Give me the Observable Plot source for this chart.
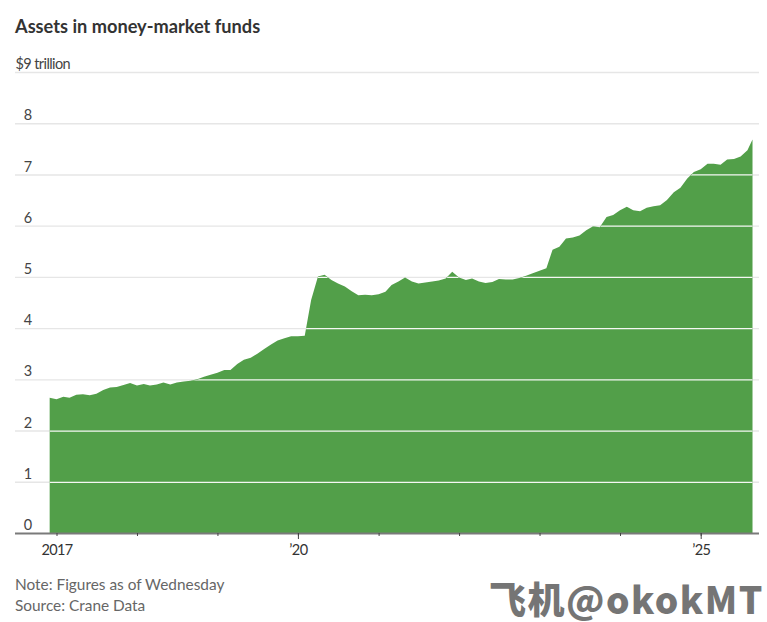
<!DOCTYPE html>
<html>
<head>
<meta charset="utf-8">
<script src="https://cdn.jsdelivr.net/npm/d3@7"></script>
<script src="https://cdn.jsdelivr.net/npm/@observablehq/plot@0.6"></script>
<style>
  html, body { margin: 0; padding: 0; background: #fff; }
  #wrap { position: relative; width: 767px; height: 622px; overflow: hidden; font-family: Lato, sans-serif; }
  #title { height: 48px; box-sizing: border-box; padding: 15px 0 0 15px; font-size: 18.2px; line-height: 22px; font-weight: 700; color: #333; }
  #chart svg { display: block; }
  #note { padding: 11px 0 0 15px; font-size: 15.4px; line-height: 21px; color: #666; }
  #mark { position: absolute; left: 489px; top: 579px; font-family: "Noto Sans CJK SC", sans-serif; font-weight: 900; font-size: 37px; line-height: 38px; letter-spacing: 1.5px; color: #757575; white-space: nowrap; }
  .tight text, text.tight { letter-spacing: -0.6px; }
</style>
</head>
<body>
<div id="wrap">
  <div id="title">Assets in money-market funds</div>
  <div id="chart"></div>
  <div id="note">Note: Figures as of Wednesday<br>Source: Crane Data</div>
  <div id="mark">飞机@okokMT</div>
</div>
<script>
const months = d3.utcMonth.range(new Date(Date.UTC(2016, 11, 1)), new Date(Date.UTC(2025, 8, 1)));
const lastDate = new Date(Date.UTC(2025, 7, 24));
const dates = [...months, lastDate];
const assets = [
  2.64,
  2.61, 2.66, 2.64, 2.70, 2.71, 2.69, 2.72, 2.79, 2.84, 2.85, 2.89, 2.93,
  2.88, 2.91, 2.88, 2.90, 2.94, 2.90, 2.94, 2.96, 2.97, 3.00, 3.05, 3.09,
  3.13, 3.18, 3.18, 3.30, 3.38, 3.42, 3.50, 3.59, 3.68, 3.76, 3.80, 3.84,
  3.84, 3.85, 4.55, 5.01, 5.04, 4.94, 4.87, 4.81, 4.72, 4.64, 4.65, 4.64,
  4.66, 4.71, 4.84, 4.91, 4.99, 4.91, 4.87, 4.89, 4.91, 4.93, 4.97, 5.10,
  4.99, 4.94, 4.97, 4.91, 4.88, 4.90, 4.96, 4.95, 4.95, 4.98, 5.02, 5.07,
  5.12, 5.17, 5.53, 5.59, 5.75, 5.77, 5.81, 5.91, 5.99, 5.97, 6.17, 6.21,
  6.30, 6.37, 6.30, 6.28, 6.35, 6.38, 6.40, 6.50, 6.65, 6.74, 6.92, 7.05,
  7.10, 7.21, 7.21, 7.19, 7.29, 7.30, 7.35, 7.47, 7.68
];
const yTicks = [0, 1, 2, 3, 4, 5, 6, 7, 8, 9];
const yLabelTicks = [0, 1, 2, 3, 4, 5, 6, 7, 8];
const topLabel = "$9 trillion";
const yearTicks = d3.range(2017, 2026).map(y => new Date(Date.UTC(y, 0, 1)));
const longTicks = [new Date(Date.UTC(2020, 0, 1)), new Date(Date.UTC(2025, 0, 1))];
const yearLabels = new Map([[2017, "2017"], [2020, "’20"], [2025, "’25"]]);
const series = dates.map((d, i) => ({date: d, value: assets[i]}));

const green = "#529f49";
const plot = Plot.plot({
  width: 767,
  height: 515,
  marginTop: 24,
  marginBottom: 30,
  marginLeft: 15,
  marginRight: 8,
  style: {fontFamily: "Lato, sans-serif", fontSize: "14px", color: "#333", background: "#fff", overflow: "visible"},
  x: {type: "utc", domain: [yearTicks[0], yearTicks[8]], range: [56.5, 700.7], axis: null},
  y: {domain: [0, 9], range: [485, 24], axis: null},
  marks: [
    Plot.ruleY(yTicks.slice(1), {stroke: "#e6e6e6", strokeWidth: 1.4}),
    Plot.areaY(series, {x: "date", y: "value", fill: green, className: "assets-area"}),
    Plot.ruleY(yTicks.slice(1), {stroke: "#f4f7f3", strokeWidth: 1.2, className: "grid-over"}),
    Plot.ruleY([0], {stroke: "#7a7a7a", strokeWidth: 2}),
    Plot.axisX({ticks: yearTicks, tickSize: 3, tickFormat: () => "", stroke: "#444", label: null}),
    Plot.axisX({ticks: longTicks, tickSize: 6, tickFormat: () => "", stroke: "#444", label: null}),
    Plot.text(yearTicks.filter(d => yearLabels.has(d.getUTCFullYear())), {
      x: d => d,
      frameAnchor: "bottom",
      dy: 21,
      dx: 0,
      text: d => yearLabels.get(d.getUTCFullYear()),
      className: "tight",
      fontSize: 14.5,
      fill: "#333"
    }),
    Plot.text(yLabelTicks, {
      y: d => d,
      frameAnchor: "left",
      dx: 16,
      dy: -8,
      text: d => String(d),
      textAnchor: "end",
      className: "tight",
      fontSize: 14.5,
      fill: "#444"
    }),
    Plot.text([9], {
      y: d => d,
      frameAnchor: "left",
      dy: -8,
      text: () => topLabel,
      textAnchor: "start",
      className: "tight",
      fontSize: 14.5,
      fill: "#444"
    })
  ]
});
document.getElementById("chart").appendChild(plot);

/* Gridlines turn white only where they run under the filled area */
const areaPath = plot.querySelector('.assets-area path, path.assets-area');
const overGroup = plot.querySelector('.grid-over');
if (areaPath && overGroup) {
  const ns = "http://www.w3.org/2000/svg";
  const defs = document.createElementNS(ns, "defs");
  const cp = document.createElementNS(ns, "clipPath");
  cp.setAttribute("id", "under-area");
  const p = document.createElementNS(ns, "path");
  p.setAttribute("d", areaPath.getAttribute("d"));
  cp.appendChild(p);
  defs.appendChild(cp);
  plot.insertBefore(defs, plot.firstChild);
  overGroup.setAttribute("clip-path", "url(#under-area)");
}
</script>
</body>
</html>
